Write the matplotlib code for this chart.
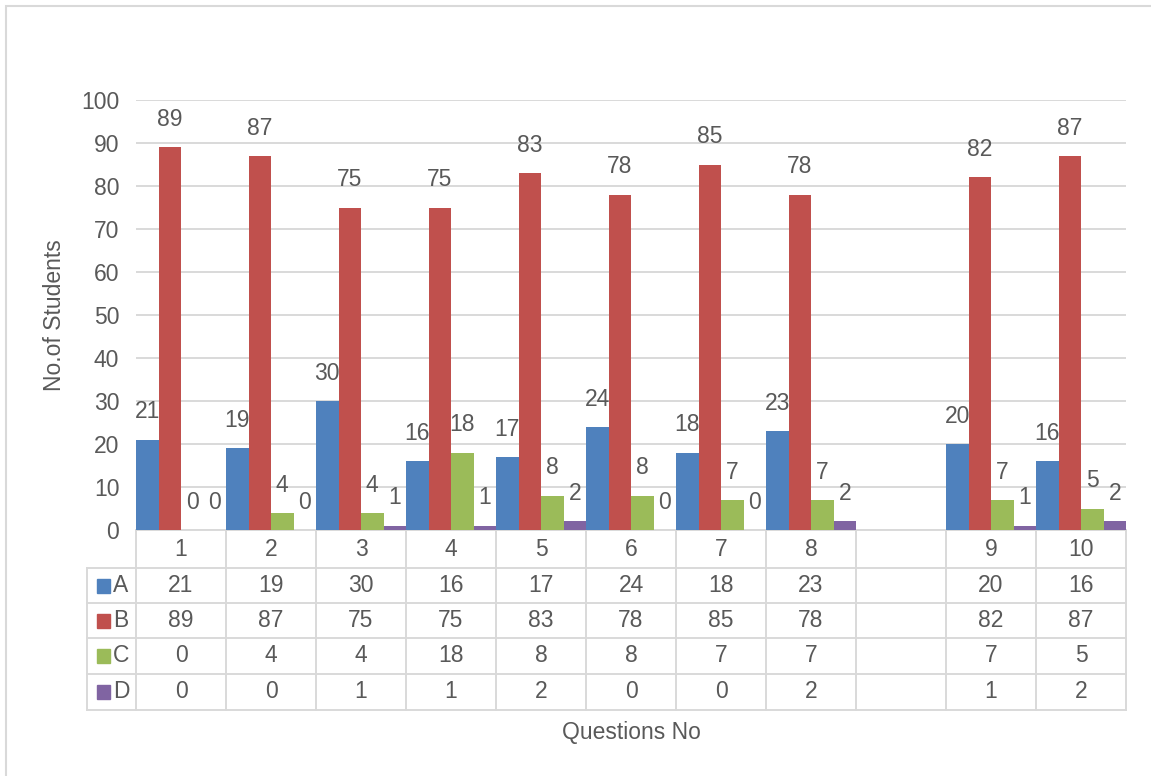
import numpy as np
import matplotlib
matplotlib.use('Agg')
import matplotlib.pyplot as plt
from matplotlib.patches import Rectangle
from matplotlib.transforms import blended_transform_factory

# data (blank slot between question 8 and 9 as in the original sheet)
questions = ['1', '2', '3', '4', '5', '6', '7', '8', '', '9', '10']
A = [21, 19, 30, 16, 17, 24, 18, 23, np.nan, 20, 16]
B = [89, 87, 75, 75, 83, 78, 85, 78, np.nan, 82, 87]
C = [0, 4, 4, 18, 8, 8, 7, 7, np.nan, 7, 5]
D = [0, 0, 1, 1, 2, 0, 0, 2, np.nan, 1, 2]
series_names = ['A', 'B', 'C', 'D']
colors = ['#4F81BD', '#C0504D', '#9BBB59', '#8064A2']

plt.rcParams['font.family'] = ['Liberation Sans', 'DejaVu Sans']
txt_col = '#595959'
grid_col = '#d9d9d9'
fs = 16.5

W, H = 1151, 776
fig = plt.figure(figsize=(W / 100, H / 100), dpi=100)
ax = fig.add_axes([136 / W, 1 - 530 / H, (1126 - 136) / W, 430 / H])

# outer chart border (only top and left are visible in the crop)
fig.add_artist(Rectangle((6 / W, -1), 2, 1 - 6 / H + 1, transform=fig.transFigure,
                         fill=False, edgecolor=grid_col, lw=1.5))

x = np.arange(len(questions))
width = 0.25
all_vals = [A, B, C, D]
for i, (name, vals) in enumerate(zip(series_names, all_vals)):
    pos = x + (i - 1.5) * width
    ax.bar(pos, vals, width, color=colors[i], label=name, zorder=2 + 2 * i)
    for px, v in zip(pos, vals):
        if np.isnan(v):
            continue
        ax.annotate(f'{int(v)}', (px, v), xytext=(0, 20), textcoords='offset points',
                    ha='center', va='center', fontsize=fs, color=txt_col,
                    zorder=3 + 2 * i, annotation_clip=False)

ax.set_xlim(-0.5, len(questions) - 0.5)
ax.set_ylim(0, 100)
ax.set_yticks(np.arange(0, 101, 10))
ax.yaxis.grid(True, color=grid_col, lw=1.4, zorder=0)
ax.set_axisbelow(True)
ax.tick_params(axis='y', length=0, pad=12, labelsize=fs, labelcolor=txt_col)
ax.set_xticks([])
for s in ax.spines.values():
    s.set_visible(False)

ax.set_ylabel('No.of Students', fontsize=fs, color=txt_col)
ax.yaxis.set_label_coords(-0.071, 0.5)

# data table under the plot
tr = blended_transform_factory(ax.transData, ax.transAxes)
px_y = lambda p: (530 - p) / 430
row_edges = [530, 568, 603, 638, 674, 710]
x_left = -0.5 - 49 / 90
x_right = len(questions) - 0.5
line_kw = dict(color=grid_col, lw=1.4, transform=tr, clip_on=False, zorder=1)

# horizontal lines
ax.plot([-0.5, x_right], [0, 0], **line_kw)
for e in row_edges[1:]:
    ax.plot([x_left, x_right], [px_y(e)] * 2, **line_kw)
# vertical lines
ax.plot([x_left, x_left], [px_y(568), px_y(710)], **line_kw)
for b in np.arange(len(questions) + 1) - 0.5:
    ax.plot([b, b], [0, px_y(710)], **line_kw)

# header row
for xi, q in zip(x, questions):
    ax.text(xi, px_y(549), q, transform=tr, ha='center', va='center',
            fontsize=fs, color=txt_col)

# value rows
for r, (name, vals) in enumerate(zip(series_names, all_vals)):
    yc = px_y((row_edges[r + 1] + row_edges[r + 2]) / 2)
    ax.add_patch(Rectangle((-0.5 - 39 / 90, yc - 7 / 430), 13 / 90, 14 / 430,
                           transform=tr, color=colors[r], clip_on=False))
    ax.text(-0.5 - 23 / 90, yc, name, transform=tr, ha='left', va='center',
            fontsize=fs, color=txt_col)
    for xi, v in zip(x, vals):
        if np.isnan(v):
            continue
        ax.text(xi, yc, f'{int(v)}', transform=tr, ha='center', va='center',
                fontsize=fs, color=txt_col)

ax.text(0.5, px_y(733), 'Questions No', transform=ax.transAxes, ha='center',
        va='center', fontsize=fs, color=txt_col)

fig.savefig('out.png', dpi=100, facecolor='white')
